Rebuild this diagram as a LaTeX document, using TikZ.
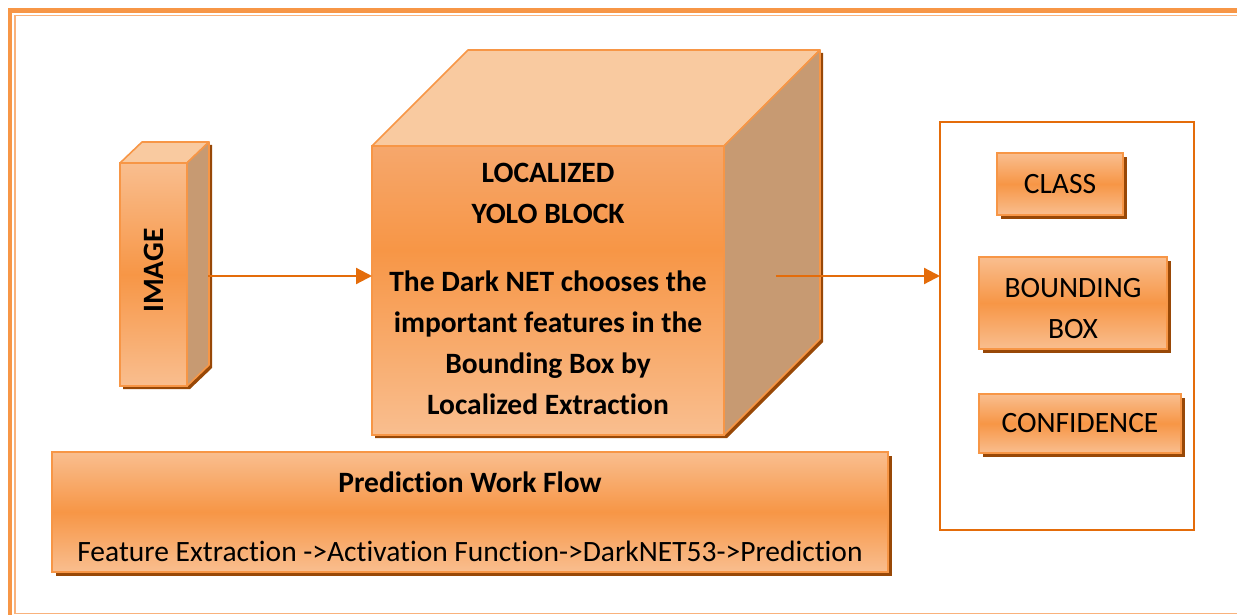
\documentclass[tikz,border=0pt]{standalone}
\usepackage{graphicx}
\usepackage{fontspec}
\setmainfont{Carlito}[Ligatures=NoCommon]
\usetikzlibrary{arrows.meta,backgrounds,calc}

\definecolor{accent}{HTML}{F79646}
\definecolor{deeporange}{HTML}{E46C0A}
\definecolor{shadowbrown}{HTML}{984807}
\definecolor{facetop}{HTML}{F9CAA0}
\definecolor{faceside}{HTML}{C79A72}
\definecolor{facelight}{HTML}{F9BE8F}
\definecolor{facemid}{HTML}{F6A76C}
\definecolor{framethin}{HTML}{F9B27C}

% front face of the large cube: darkest a little above the middle
\pgfdeclareverticalshading{cubefront}{100bp}{color(0bp)=(facelight); color(25bp)=(facelight); color(57bp)=(accent); color(75bp)=(facemid); color(100bp)=(facemid)}

\tikzset{
  boxtext/.style={font=\fontsize{29.5}{41}\selectfont, text=black, align=center},
  frontface/.style={draw=accent, line width=1.6, inner sep=0pt, outer sep=0pt,
    top color=facelight, bottom color=facelight, middle color=accent},
  topface/.style={draw=accent, line width=1.6, fill=facetop, line join=round},
  sideface/.style={draw=accent, line width=1.6, fill=faceside, line join=round},
  outbox/.style={frontface, line width=1.5, boxtext},
  shadowfill/.style={fill=shadowbrown},
  flowarrow/.style={draw=deeporange, line width=2.2,
    -{Triangle[length=16pt,width=16pt]}},
}

\begin{document}
\begin{tikzpicture}[x=1pt,y=-1pt]
\useasboundingbox (0,0) rectangle (1237,615);
\clip (0,0) rectangle (1237,615);

% page frame: heavy outer rule and light inner rule
\draw[accent, line width=4.5] (10.2,10.3) rectangle (1270,650);
\draw[framethin, line width=1.4] (14.8,15.5) rectangle (1260,613.6);

% ---- IMAGE block (tall cuboid) ----
\node[frontface, minimum width=67, minimum height=223] (img) at (153.5,274.5) {};
\node[boxtext] (imglabel) at ($(img.center)+(0,-4)$) {\rotatebox{90}{\bfseries IMAGE}};

% ---- LOCALIZED YOLO BLOCK (cube) ----
\node[draw=accent, line width=1.6, inner sep=0pt, outer sep=0pt, shading=cubefront,
      minimum width=352, minimum height=289, boxtext, font=\fontsize{29.5}{41}\selectfont\bfseries]
  (yolo) at (548,290.5) {};
\node[boxtext, font=\fontsize{29.5}{41}\selectfont\bfseries] (yolotext) at ($(yolo.center)+(0,-2)$)
  {LOCALIZED\\YOLO BLOCK\\[27pt]The Dark NET chooses the\\important features in the\\Bounding Box by\\Localized Extraction};

% ---- Prediction Work Flow banner ----
\node[outbox, minimum width=836, minimum height=120] (flow) at (470,512) {};
\node[boxtext] (flowtext) at ($(flow.center)+(0,5)$)
  {\textbf{Prediction Work Flow}\\[28pt]Feature Extraction ->Activation Function->DarkNET53->Prediction};

% ---- outputs panel ----
\node[draw=deeporange, line width=2, minimum width=254, minimum height=408,
      inner sep=0pt, outer sep=0pt] (panel) at (1067,326) {};
\node[outbox, minimum width=126, minimum height=62] (cls) at (1060,184) {CLASS};
\node[outbox, minimum width=188, minimum height=92] (bbox) at (1073,303) {};
\node[boxtext] (bboxtext) at ($(bbox.center)+(0,6)$) {BOUNDING\\BOX};
\node[outbox, minimum width=202, minimum height=59] (conf) at (1080,423.5) {CONFIDENCE};

% ---- shadows and the cuboid faces behind the front faces ----
\begin{scope}[on background layer]
  % IMAGE cuboid
  \fill[shadowbrown] ($(img.north west)+(3,3)$) -- ($(img.south west)+(3,3)$)
    -- ($(img.south east)+(3,3)$) -- ++(22,-21) -- ++(0,-223) -- ++(-67,0) -- cycle;
  \draw[topface] (img.north west) -- ++(22,-21) -- ++(67,0) -- (img.north east) -- cycle;
  \draw[sideface] (img.north east) -- ++(22,-21) -- ++(0,223) -- (img.south east) -- cycle;

  % YOLO cube
  \fill[shadowbrown] ($(yolo.north west)+(3,3)$) -- ($(yolo.south west)+(3,3)$)
    -- ($(yolo.south east)+(3,3)$) -- ++(96,-96) -- ++(0,-289) -- ++(-352,0) -- cycle;
  \draw[topface] (yolo.north west) -- ++(96,-96) -- ++(352,0) -- (yolo.north east) -- cycle;
  \draw[sideface] (yolo.north east) -- ++(96,-96) -- ++(0,289) -- (yolo.south east) -- cycle;

  % flat boxes
  \foreach \b in {flow,cls,bbox,conf}
    \fill[shadowfill] ($(\b.north west)+(4,4)$) rectangle ($(\b.south east)+(4,4)$);
\end{scope}

% ---- connectors ----
\coordinate (imgout) at (208,276);
\coordinate (yoloout) at (776,276);
\draw[flowarrow] (imgout) -- (imgout -| yolo.west);
\draw[flowarrow] (yoloout) -- (yoloout -| panel.west);
\end{tikzpicture}
\end{document}
